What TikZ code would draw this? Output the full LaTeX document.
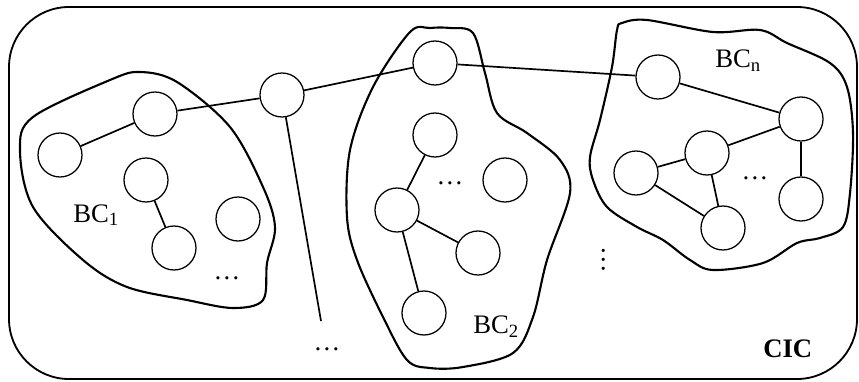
\documentclass[tikz,border=0pt]{standalone}
\usepackage{fontspec}
\setmainfont{Liberation Serif}

\begin{document}
\begin{tikzpicture}[x=0.025cm,y=-0.025cm,
    font=\fontsize{19}{22}\selectfont,
    vtx/.style={circle,draw,line width=0.9pt,minimum size=1.1cm,inner sep=0pt},
    link/.style={line width=1.2pt},
    blob/.style={line width=1.5pt,smooth cycle,tension=0.55}]
  \useasboundingbox (0,0) rectangle (859,381);
  \draw[line width=1.3pt,rounded corners=1.5cm] (9,7) rectangle (857,379);

  % blocks
  \draw[blob] plot coordinates {(33,117) (110,80) (140,72) (177,82) (230,127)
    (263,187) (275,227) (267,263) (263,300) (233,308) (187,300) (127,287)
    (83,260) (33,207) (20,150)};
  \draw[blob] plot coordinates {(430,28) (410,32) (373,87) (350,150) (347,217)
    (357,260) (383,317) (407,360) (430,368) (463,367) (513,353) (533,317)
    (547,260) (570,193) (560,160) (527,133) (497,113) (485,73) (473,33) (450,28)};
  \draw[blob] plot coordinates {(622,23) (647,20) (713,32) (760,30) (787,43)
    (830,63) (847,87) (853,133) (850,193) (843,227) (820,238) (797,243)
    (763,263) (713,270) (690,260) (663,240) (637,227) (607,207) (593,180)
    (590,157) (600,120) (612,67) (617,30)};

  % BC_1
  \node[vtx] (a1) at (60,155) {};
  \node[vtx] (a2) at (155,114) {};
  \node[vtx] (a3) at (146,180) {};
  \node[vtx] (a4) at (174,248) {};
  \node[vtx] (a5) at (238,219) {};
  % hub
  \node[vtx] (h) at (282,95) {};
  \coordinate (hend) at (321,321);
  % BC_2
  \node[vtx] (b1) at (435,63) {};
  \node[vtx] (b2) at (435,135) {};
  \node[vtx] (b3) at (397,210) {};
  \node[vtx] (b4) at (478,253) {};
  \node[vtx] (b5) at (424,313) {};
  \node[vtx] (b6) at (505,180) {};
  % BC_n
  \node[vtx] (c1) at (658,77) {};
  \node[vtx] (c2) at (801,119) {};
  \node[vtx] (c3) at (707,153) {};
  \node[vtx] (c4) at (636,173) {};
  \node[vtx] (c5) at (723,228) {};
  \node[vtx] (c6) at (801,199) {};

  \draw[link] (a1) -- (a2) -- (h) -- (b1) -- (c1) -- (c2) -- (c3) -- (c4) -- (c5) -- (c3);
  \draw[link] (c2) -- (c6);
  \draw[link] (a3) -- (a4);
  \draw[link] (b2) -- (b3) -- (b4);
  \draw[link] (b3) -- (b5);
  \draw[link] (h) -- (hend);

  % labels
  \node[anchor=base west,inner sep=0pt] (lbc1) at (73,222) {BC\textsubscript{1}};
  \node[anchor=base west,inner sep=0pt] (lbc2) at (473,333) {BC\textsubscript{2}};
  \node[anchor=base west,inner sep=0pt] (lbcn) at (715,68) {BC\textsubscript{n}};
  \node[anchor=base west,inner sep=0pt] (lcic) at (763,357) {\textbf{CIC}};
  \node (d1) at (227,278) {…};
  \node (d2) at (327,349) {…};
  \node (d3) at (450,183) {…};
  \node (d4) at (755,178) {…};
  \node[rotate=-90] (d5) at (604,260) {…};
\end{tikzpicture}
\end{document}
